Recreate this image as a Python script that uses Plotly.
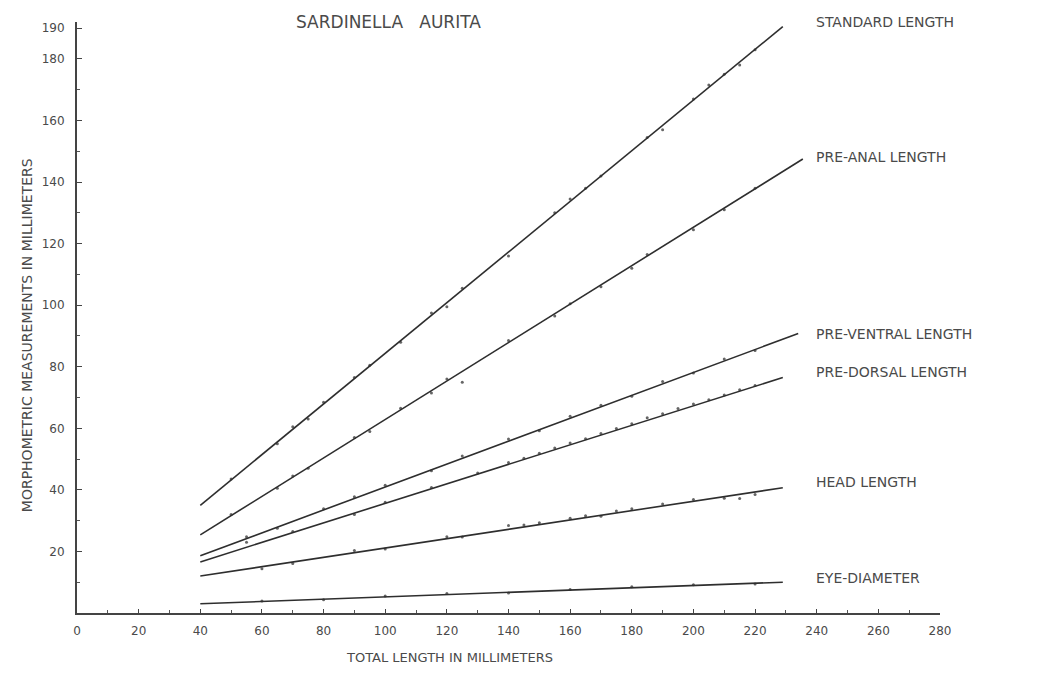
import plotly.graph_objects as go

# ---- data ----
measures = ["STANDARD LENGTH", "PRE-ANAL LENGTH", "PRE-VENTRAL LENGTH",
            "PRE-DORSAL LENGTH", "HEAD LENGTH", "EYE-DIAMETER"]

# fitted regression lines: (start x, start y, end x, end y)
line_x_start = [40, 40, 40, 40, 40, 40]
line_y_start = [35.0, 25.4, 18.6, 16.6, 12.0, 3.0]
line_x_end = [229, 235.5, 234, 229, 229, 229]
line_y_end = [190.5, 147.5, 90.8, 76.5, 40.7, 10.0]

# observed points
sl_x = [50, 65, 70, 75, 80, 90, 95, 105, 115, 120, 125, 140, 155, 160, 165, 170, 185, 190, 200, 205, 210, 215, 220]
sl_y = [43.5, 55, 60.5, 63, 68.5, 76.5, 80.5, 88, 97.5, 99.5, 105.5, 116, 130, 134.5, 138, 142, 154.5, 157, 167, 171.5, 175, 178, 183]

pa_x = [50, 65, 70, 75, 90, 95, 105, 115, 120, 125, 140, 155, 160, 170, 180, 185, 200, 210, 220]
pa_y = [32, 40.5, 44.5, 47, 57, 59, 66.5, 71.5, 76, 75, 88.5, 96.5, 100.5, 106, 112, 116.5, 124.5, 131, 138]

pv_x = [55, 65, 80, 90, 100, 115, 125, 140, 150, 160, 170, 180, 190, 200, 210, 220]
pv_y = [24.8, 27.5, 33.9, 37.8, 41.5, 46.2, 51, 56.5, 59.2, 63.9, 67.5, 70.4, 75.2, 78, 82.5, 85.3]

pd_x = [55, 70, 90, 100, 115, 130, 140, 145, 150, 155, 160, 165, 170, 175, 180, 185, 190, 195, 200, 205, 210, 215, 220]
pd_y = [23, 26.5, 32, 36, 40.8, 45.5, 48.9, 50.3, 51.9, 53.6, 55.2, 56.6, 58.3, 59.9, 61.5, 63.4, 64.7, 66.4, 67.9, 69.3, 70.8, 72.5, 73.9]

hl_x = [60, 70, 90, 100, 120, 125, 140, 145, 150, 160, 165, 170, 175, 180, 190, 200, 210, 215, 220]
hl_y = [14.4, 16.1, 20.3, 20.8, 24.8, 24.7, 28.4, 28.6, 29.3, 30.8, 31.6, 31.4, 33.1, 33.9, 35.4, 36.9, 37.3, 37.2, 38.5]

ed_x = [60, 80, 100, 120, 140, 160, 180, 200, 220]
ed_y = [3.9, 4.3, 5.5, 6.3, 6.5, 7.6, 8.5, 9.2, 9.4]

points_x = [sl_x, pa_x, pv_x, pd_x, hl_x, ed_x]
points_y = [sl_y, pa_y, pv_y, pd_y, hl_y, ed_y]

# label anchor positions (data coords)
label_x = [239, 239, 239, 239, 239, 239]
label_y = [192, 148, 90.7, 78.3, 42.6, 11.4]

x_ticks = list(range(0, 281, 20))
y_ticks = [20, 40, 60, 80, 100, 120, 140, 160, 180, 190]

INK = "#2e2e2e"
TXT = "#4a4a4a"
FONT = "DejaVu Sans"

fig = go.Figure()

for i, name in enumerate(measures):
    fig.add_trace(go.Scatter(
        x=points_x[i], y=points_y[i], mode="markers",
        marker=dict(size=3, color="#666666"), showlegend=False, hoverinfo="skip"))
    fig.add_trace(go.Scatter(
        x=[line_x_start[i], line_x_end[i]], y=[line_y_start[i], line_y_end[i]],
        mode="lines", line=dict(color=INK, width=1.6), name=name, showlegend=False))
    fig.add_annotation(x=label_x[i], y=label_y[i], text=name, showarrow=False,
                       xanchor="left", yanchor="middle",
                       font=dict(family=FONT, size=14, color=TXT))

fig.add_annotation(x=101, y=192, text="SARDINELLA   AURITA", showarrow=False,
                   xanchor="center", yanchor="middle",
                   font=dict(family=FONT, size=17, color=TXT))

# axis titles (placed as in the original, off-centre)
fig.add_annotation(x=121, xref="x", y=-0.076, yref="paper",
                   text="TOTAL LENGTH IN MILLIMETERS", showarrow=False,
                   xanchor="center", yanchor="middle",
                   font=dict(family=FONT, size=13, color=TXT))
fig.add_annotation(x=-0.058, xref="paper", y=0.47, yref="paper",
                   text="MORPHOMETRIC MEASUREMENTS IN MILLIMETERS", showarrow=False,
                   textangle=-90, xanchor="center", yanchor="middle",
                   font=dict(family=FONT, size=14, color=TXT))

fig.update_layout(
    width=1035, height=660,
    margin=dict(l=69, r=103, t=14, b=55),
    paper_bgcolor="white", plot_bgcolor="white",
    showlegend=False,
    font=dict(family=FONT, color=TXT, size=11),
    xaxis=dict(
        range=[0, 280], tickvals=x_ticks, ticktext=[str(v) for v in x_ticks],
        showgrid=False, zeroline=False, showline=True, linecolor="#444444", linewidth=2,
        ticks="inside", ticklen=4, tickcolor="#444444", tickwidth=1,
        minor=dict(dtick=10, tick0=0, ticks="inside", ticklen=3, tickcolor="#555555"),
        tickfont=dict(family=FONT, size=12, color=TXT), ticklabelstandoff=6,
        automargin=False,
    ),
    yaxis=dict(
        range=[0, 192], tickvals=y_ticks, ticktext=[str(v) for v in y_ticks],
        showgrid=False, zeroline=False, showline=True, linecolor="#444444", linewidth=2,
        ticks="inside", ticklen=5, tickcolor="#444444", tickwidth=1,
        minor=dict(dtick=10, tick0=0, ticks="inside", ticklen=3, tickcolor="#555555"),
        tickfont=dict(family=FONT, size=12, color=TXT), ticklabelstandoff=8,
        automargin=False,
    ),
)

fig.write_html("out.html")
